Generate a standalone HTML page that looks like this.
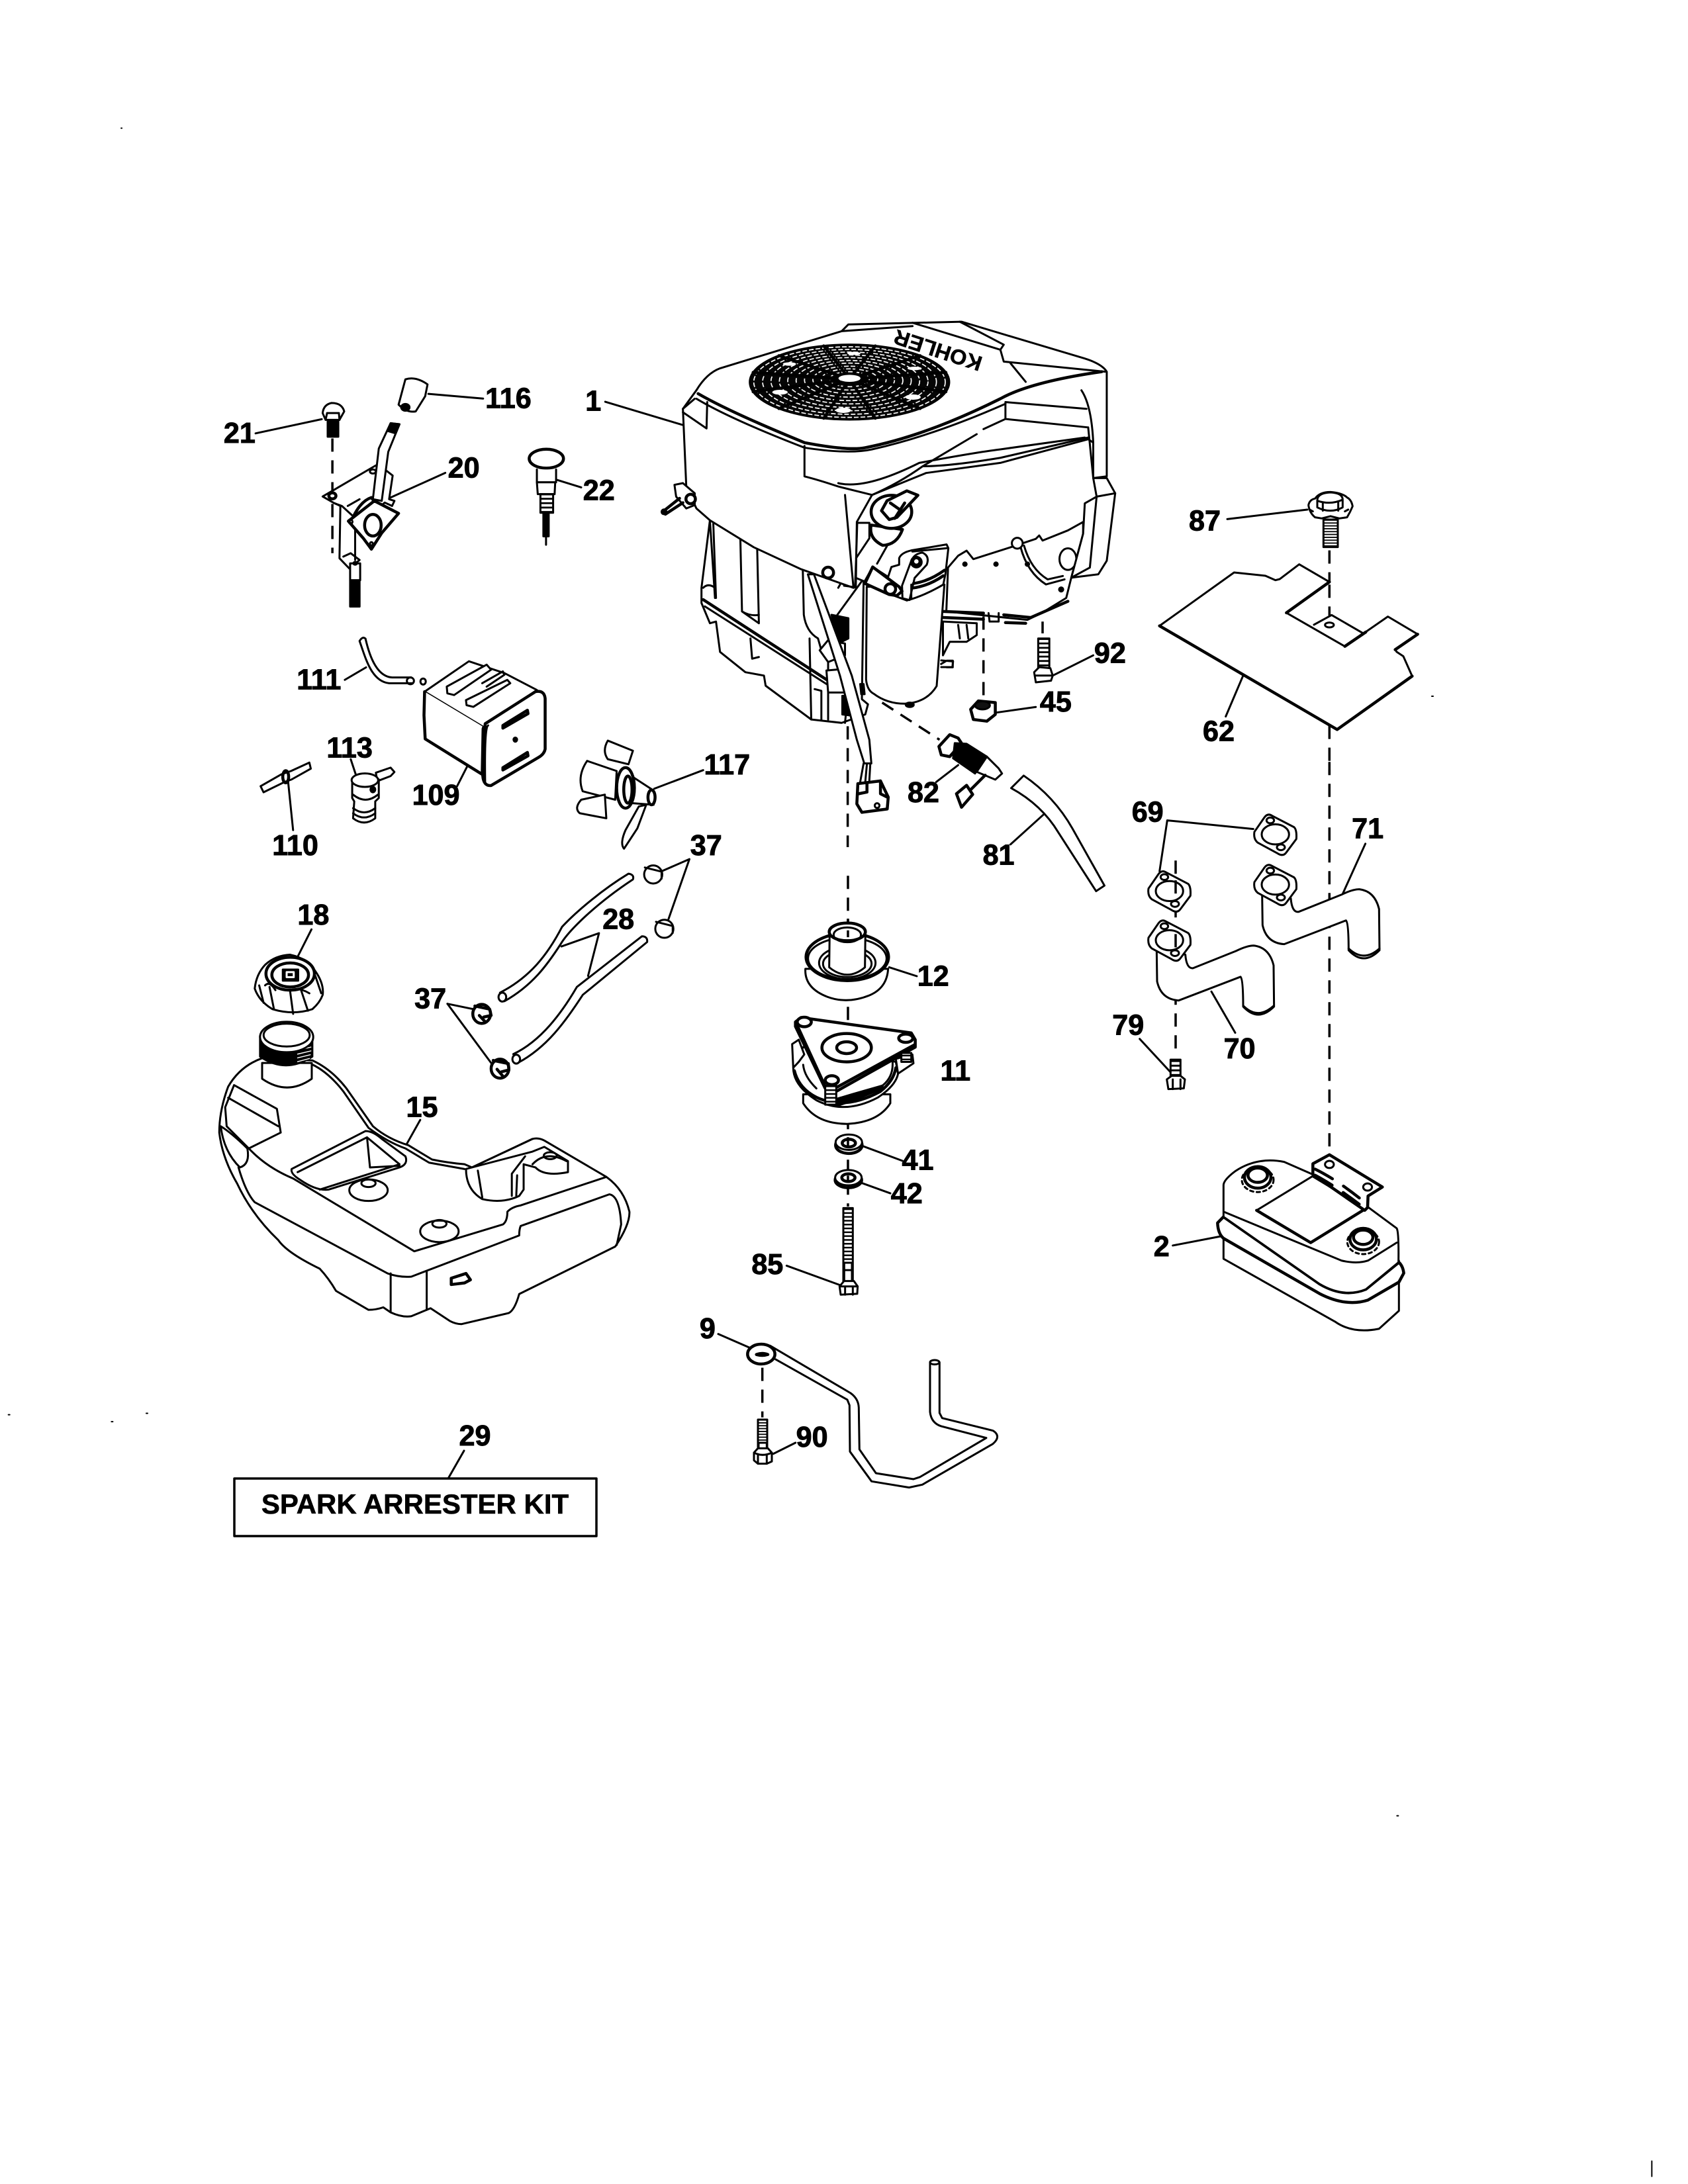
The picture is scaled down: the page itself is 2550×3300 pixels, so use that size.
<!DOCTYPE html>
<html><head><meta charset="utf-8"><style>
html,body{margin:0;padding:0;background:#fff}
svg{display:block}
path,ellipse,rect,line,circle{fill:none;stroke:#000;stroke-width:3;vector-effect:non-scaling-stroke;stroke-linejoin:round;stroke-linecap:round}
.w{fill:#fff}.k{fill:#000}.t{stroke-width:4.5}.f{stroke-width:2}
.d{stroke-dasharray:20 13;stroke-linecap:butt;stroke-width:3.5}
.h{fill:url(#th)}
text.l{font:bold 20.5px "Liberation Sans",sans-serif;text-anchor:middle;stroke:#000;stroke-width:.45}
.r{stroke:#fff!important;stroke-width:1.7;stroke-dasharray:7 3;stroke-linecap:butt}
</style></head><body>
<svg width="2550" height="3300" viewBox="0 0 2550 3300" xmlns="http://www.w3.org/2000/svg">
<defs>
<pattern id="th" width="10" height="13" patternUnits="userSpaceOnUse"><rect width="10" height="13" style="fill:#fff;stroke:none"/><rect y="0" width="10" height="5.5" style="fill:#000;stroke:none"/></pattern>
<g id="gk"><path class="w" d="M585,105 L630,65 Q645,52 665,60 L765,92 Q778,100 775,125 L730,162 Q715,175 690,165 L600,135 Q580,125 585,105Z"/><ellipse cx="680" cy="112" rx="62" ry="28"/><ellipse cx="657" cy="73" rx="17" ry="8"/><ellipse cx="705" cy="148" rx="18" ry="8"/></g>
<path id="px" class="w" d="M620,280 L622,365 Q640,415 720,418 L1000,352 Q1012,358 1012,435 Q1080,480 1152,435 L1150,320 Q1130,270 1060,265 Q1030,265 980,280 L785,328 Q755,330 750,290Z"/>
</defs>
<rect width="2550" height="3300" style="fill:#fff;stroke:none"/>

<!-- ENGINE -->
<g transform="translate(950,480) scale(.5102)">
<path class="w" d="M215,800 L215,845 L240,905 L258,900 L270,990 L345,1050 L400,1060 L405,1090 L540,1190 L630,1200 L700,1175 L708,1145 L690,1130 L695,780 L500,700 L240,600Z"/>
<path class="t" d="M220,835 L590,1075"/><path d="M225,855 L590,1088M220,800 Q235,785 255,800 L255,830M240,600 L255,830M250,610 L258,830M330,650 L335,870 L385,905 L380,685M335,870 Q360,885 385,880M515,745 L518,880 Q525,930 560,950 L570,985M535,950 L540,1190M550,1100 L570,1105 L570,1190M590,1000 L590,1190M360,950 L365,1010 L385,1005M640,1200 L645,1150M610,890 L690,780M710,640 L620,800"/>
<path class="k" d="M600,880 L650,890 L650,950 L620,965Z"/><path class="k" d="M632,1120 L652,1120 L655,1178 L632,1175Z"/><path class="k" d="M685,1085 L695,1085 L698,1115 L688,1115Z"/>
<path class="w" d="M590,955 L640,965 L640,1000 L590,1020 L565,985Z"/><path class="w" d="M585,1045 L640,1040 L640,1110 L590,1110Z"/>
<path class="w" d="M945,740 L975,705 L1000,690 L1020,715 L1130,680 L1205,655 L1215,645 L1225,660 L1300,630 L1345,605 L1345,640 L1310,770 L1295,830 L1230,870 L1180,895 L940,870Z"/>
<path class="t" d="M930,870 L1050,875M1110,880 L1190,888 L1300,840"/>
<path class="t" d="M930,888 L1050,893M1115,903 L1175,905"/>
<path d="M1065,875 L1068,900 L1095,900 L1095,875M1170,675 Q1190,745 1240,775 L1285,765M1160,680 Q1180,755 1235,790 L1290,775"/>
<circle class="w" cx="1150" cy="668" r="16"/><ellipse class="w" cx="1300" cy="715" rx="25" ry="32"/>
<circle class="k" cx="995" cy="730" r="5"/><circle class="k" cx="1087" cy="730" r="5"/><circle class="k" cx="1180" cy="730" r="5"/><circle class="k" cx="1280" cy="805" r="6"/>
<path class="w" d="M930,900 L1030,905 L1030,940 L1000,960 L950,960 L930,1000Z"/><path d="M975,910 L980,950M1000,910 L1005,950M925,1015 L960,1018 L958,1035 L925,1035"/>
<path class="w" d="M160,270 L170,500 L200,565 L240,600 L370,680 L510,745 L665,800 L672,798 L675,605 L720,525 L880,460 L1100,430 L1360,360 L1375,370 L1375,475 L1415,470 L1415,160 Q1400,135 1340,118 L985,12 L650,20 L630,40 L270,150 Q230,165 200,215Z"/>
<path class="w" d="M1375,475 L1415,475 L1440,520 L1415,720 L1390,760 L1310,770 L1345,640 L1350,550 L1385,530Z"/><path d="M1440,520 L1385,530 L1365,740 L1310,770"/>
<path d="M640,525 L665,800M520,380 L520,470 Q560,480 620,500 L720,525 Q800,490 870,440 Q950,440 1100,415 L1360,355"/>
<path d="M620,490 Q700,510 860,430 Q1020,400 1100,390 L1350,355M870,440 L1030,345M1115,250 L1115,300 L1360,325M1115,250 L1355,270M1360,325 L1375,475M1115,300 L1050,330M1340,215 Q1370,260 1375,370M160,270 L195,240M160,280 L230,328 L232,250"/>
<path class="t" d="M205,225 Q300,280 520,370 Q650,395 700,385 Q880,350 1100,240 Q1190,190 1400,160"/>
<path d="M200,240 Q300,300 520,385 Q650,405 720,390 Q900,350 1115,255M1100,95 L1110,130 L1410,160M840,15 L1100,95M980,12 L1110,80 L1100,95M1130,135 L1175,190M630,40 L840,25"/>
<text transform="translate(1050,118) rotate(198)" style="font:900 62px 'Liberation Sans',sans-serif;stroke:#000;stroke-width:1" textLength="270" lengthAdjust="spacingAndGlyphs">KOHLER</text>
<path class="w" d="M135,495 L160,490 L195,520 L195,555 L170,565 L140,530Z"/><path class="t" d="M100,575 L150,535M108,582 L160,548"/><circle class="k" cx="104" cy="575" r="7"/><circle class="w t" cx="183" cy="537" r="14"/>
<path class="w" d="M548,760 L660,1060 L712,1250 L718,1320 L697,1320 L675,1250 L625,1060 L530,760Z"/>
<circle class="w t" cx="590" cy="755" r="16"/>
<path d="M695,1320 L685,1375M705,1320 L700,1375M715,1320 L712,1370"/>
<path class="w t" d="M678,1380 L745,1372 L768,1420 L765,1455 L690,1465 L675,1440Z"/><path class="t" d="M745,1372 L745,1410 L765,1420M680,1410 L705,1405 L705,1380"/><circle cx="735" cy="1445" r="7"/>
<path class="d" d="M648,1210 L648,1568"/>
<path class="d" d="M1050,885 L1050,1125"/><path class="d" d="M750,1140 L920,1250"/><path class="d" d="M1225,900 L1225,935"/>
<rect class="h" x="1212" y="950" width="33" height="90"/>
<path class="w" d="M1200,1050 L1215,1035 L1248,1038 L1255,1060 L1250,1075 L1205,1080Z"/><path d="M1205,1060 L1250,1060"/>
<path class="w t" d="M1012,1160 L1035,1135 L1085,1140 L1085,1175 L1060,1195 L1020,1190Z"/><ellipse cx="1047" cy="1148" rx="22" ry="12" style="fill:#111"/>
<path d="M1255,1060 L1375,1000M1085,1170 L1205,1153M-70,249 L160,318M75,1395 L220,1340M910,1375 L975,1325M1130,1560 L1235,1465"/>
<path class="w t" d="M918,1270 L950,1235 L975,1245 L985,1260 L950,1300 L925,1295Z"/>
<path class="k" d="M965,1260 L1000,1262 L1060,1300 L1025,1350 L960,1305Z"/>
<path class="w" d="M1060,1300 L1095,1335 L1105,1350 L1085,1368 L1030,1345Z"/>
<path class="t" d="M1010,1400 L1055,1355"/><path class="w t" d="M970,1410 L1000,1385 L1018,1412 L985,1450Z"/>
</g>

<!-- FAN GRILLE -->
<g transform="translate(1120,500) scale(.3333)">
<ellipse cx="490" cy="232" rx="452" ry="170" style="fill:#050505"/>
<ellipse class="r" cx="490" cy="219" rx="90" ry="34"/><ellipse class="r" cx="490" cy="220" rx="128" ry="48"/><ellipse class="r" cx="490" cy="222" rx="166" ry="62"/><ellipse class="r" cx="490" cy="223" rx="204" ry="77"/><ellipse class="r" cx="490" cy="225" rx="242" ry="91"/><ellipse class="r" cx="490" cy="226" rx="280" ry="105"/><ellipse class="r" cx="490" cy="228" rx="318" ry="119"/><ellipse class="r" cx="490" cy="229" rx="356" ry="133"/><ellipse class="r" cx="490" cy="231" rx="394" ry="147"/><ellipse class="r" cx="490" cy="232" rx="434" ry="160"/>
<path class="t" d="M490,218L927,276M490,218L810,352M490,218L607,396M490,218L373,396M490,218L170,352M490,218L53,276M490,218L53,188M490,218L170,112M490,218L373,68M490,218L607,68M490,218L810,112M490,218L927,188"/>
<ellipse cx="490" cy="215" rx="50" ry="16" style="fill:#fff;stroke:none"/><ellipse cx="510" cy="102" rx="30" ry="7" style="fill:#fff;stroke:none"/><ellipse cx="218" cy="150" rx="30" ry="8" style="fill:#fff;stroke:none"/><ellipse cx="785" cy="170" rx="32" ry="8" style="fill:#fff;stroke:none"/><ellipse cx="778" cy="300" rx="35" ry="12" style="fill:#fff;stroke:none"/><ellipse cx="175" cy="278" rx="35" ry="11" style="fill:#fff;stroke:none"/><ellipse cx="462" cy="360" rx="35" ry="12" style="fill:#fff;stroke:none"/>
</g>

<!-- STARTER, OIL CAP -->
<g transform="translate(1230,750) scale(.3333)">
<path class="w" d="M238,410 L235,830 Q240,880 270,895 Q330,940 410,940 Q510,935 555,860 L590,400Z"/>
<ellipse class="k" cx="433" cy="945" rx="18" ry="10"/>
<path class="w" d="M385,280 Q395,255 440,245 L600,218 L608,235 L595,350 L585,400 Q500,450 420,472 L335,440 L225,392 L265,320 L335,365 L350,320 L385,310Z"/>
<path class="w" d="M437,300 Q450,260 490,255 Q525,270 510,310 L455,370 L432,470 L400,462 L398,405Z"/>
<circle class="k" cx="463" cy="298" r="24"/><circle cx="463" cy="295" r="10" style="fill:#fff;stroke:none"/>
<path class="t" d="M450,395 Q520,385 590,335M450,415 Q520,405 585,360"/><path d="M440,400 L440,460M445,250 L600,235"/>
<path class="w t" d="M265,320 L385,410 L398,430 L375,450 L340,445 L230,395Z"/><circle class="w t" cx="345" cy="420" r="24"/>
<path class="w" d="M250,120 L195,120 L190,280 L250,190Z"/><path d="M135,405 L185,412 L190,280"/>
<path class="w t" d="M258,130 Q245,190 310,222 Q375,220 400,150Z"/><path d="M330,225 L285,305"/>
<ellipse class="w t" cx="350" cy="70" rx="92" ry="75"/>
<path class="w t" d="M330,20 L420,-25 L470,-5 L375,95 L340,105 L305,65Z"/><path class="t" d="M365,100 L410,30M345,30 L395,65"/>
<path d="M575,760 L600,745 L628,745 L628,775 L600,775"/>
</g>

<!-- LEFT TOP PARTS -->
<g transform="translate(320,540) scale(.4464,.5102)">
<path class="d" d="M408,240 L408,580"/>
<path class="w" d="M655,65 Q690,55 730,80 L722,115 L690,160 Q660,165 632,140Z"/><ellipse class="k" cx="655" cy="148" rx="14" ry="10"/>
<path d="M733,108 L918,122M148,225 L372,183"/>
<rect class="k" x="392" y="185" width="36" height="50"/>
<path class="w" d="M375,165 Q378,140 405,135 Q440,135 448,160 L432,185 L385,185Z"/><path d="M390,165 L430,165M390,165 L385,185M430,165 L432,185"/>
<path class="w" d="M375,412 L555,320 L590,335 L612,350 L600,420 L618,425 L610,440 L585,430 L560,450 L490,480 L440,440 L415,432Z"/>
<path class="w" d="M415,432 L435,440 L432,595 L465,625 L500,600 L470,580 L445,590"/>
<ellipse class="w t" cx="408" cy="410" rx="12" ry="9"/><ellipse cx="545" cy="338" rx="10" ry="6"/>
<path class="w" d="M605,195 L565,270 L545,420 L575,425 L597,280 L635,198Z"/><path class="k" d="M605,195 L635,198 L622,225 L595,218Z"/>
<path class="w t" d="M480,470 Q505,425 540,415 L560,440 L500,480Z"/>
<path class="w t" d="M462,485 L550,425 L632,462 L575,520 L540,568 L512,535Z"/><ellipse class="w t" cx="545" cy="497" rx="28" ry="32"/><circle cx="540" cy="552" r="5"/><circle cx="470" cy="487" r="6"/>
<path d="M485,510 L485,600M460,440 L500,420"/>
<path d="M605,415 L790,342"/>
<rect class="w" x="468" y="610" width="34" height="50"/><rect class="k" x="468" y="660" width="32" height="78"/>
<ellipse class="k" cx="485" cy="610" rx="6" ry="4"/>
<ellipse class="w t" cx="1132" cy="300" rx="58" ry="28"/>
<path class="w" d="M1100,332 L1100,370 L1165,370 L1165,332"/><path class="w" d="M1100,370 L1162,370 L1160,405 L1103,405Z"/>
<rect class="h" x="1112" y="405" width="43" height="55"/><rect class="k" x="1122" y="460" width="18" height="70"/><path d="M1131,530 L1131,555M1165,362 L1250,385"/>
<path d="M500,840 C520,890 540,960 600,965 L680,965M520,833 C535,890 560,945 610,948 L675,948M500,840 Q510,825 520,833M450,955 L522,918"/><ellipse cx="672" cy="958" rx="12" ry="10"/>
<path class="w" d="M720,990 L870,900 L990,935 L1100,985 L920,1095 L720,990Z"/>
<path class="w t" d="M720,990 L718,1060 L722,1130 L915,1235 L918,1100 L920,1095"/>
<path class="w" d="M795,975 L930,910 L945,925 L820,1000 L797,995Z"/><path class="w" d="M860,1015 L1000,955 L1010,965 L885,1035 L862,1030Z"/><path d="M915,965 L985,930 L990,940 L930,975"/>
<circle cx="715" cy="960" r="9"/>
<path class="w t" d="M925,1085 L1095,990 Q1125,985 1128,1010 L1128,1160 Q1125,1175 1105,1185 L945,1268 Q920,1270 917,1240Z"/>
<path d="M935,1090 Q922,1095 925,1260"/>
<path class="w t" d="M985,1090 L1068,1045 L1070,1055 L985,1098Z"/><path class="w t" d="M985,1215 L1068,1170 L1070,1180 L985,1222Z"/><circle class="k" cx="1027" cy="1132" r="6"/>
<path d="M865,1210 L830,1270"/>
<path class="w" d="M165,1270 L235,1235 L268,1225 L330,1200 L335,1218 L270,1250 L245,1258 L175,1288Z"/><ellipse class="t" cx="250" cy="1242" rx="10" ry="18"/>
<path d="M258,1255 L275,1400M470,1190 L487,1235"/>
<path class="w" d="M555,1230 L605,1215 L618,1228 L605,1240 L560,1255Z"/>
<path class="w" d="M475,1250 Q520,1220 565,1250 L565,1305 L553,1315 L553,1365 Q515,1390 478,1365 L482,1315 L475,1305Z"/>
<ellipse class="w" cx="518" cy="1252" rx="45" ry="20"/><path d="M478,1295 Q520,1325 562,1295M478,1350 Q515,1375 553,1350M478,1335 Q515,1360 553,1335"/><circle class="k" cx="545" cy="1280" r="8"/>
<path class="w" d="M1340,1135 L1425,1165 L1410,1205 L1340,1190 Q1320,1165 1340,1135Z"/>
<path class="w" d="M1270,1195 L1370,1225 L1365,1310 L1255,1285 Q1235,1240 1270,1195Z"/>
<path class="w" d="M1250,1310 L1330,1295 L1335,1365 L1245,1350 Q1225,1335 1250,1310Z"/>
<path class="w" d="M1420,1240 L1490,1280 L1495,1325 L1420,1320Z"/>
<ellipse class="w t" cx="1400" cy="1275" rx="30" ry="60"/><ellipse class="w t" cx="1408" cy="1280" rx="14" ry="40"/>
<ellipse class="w t" cx="1488" cy="1303" rx="12" ry="22"/>
<path class="w" d="M1470,1325 L1440,1395 L1395,1455 Q1380,1440 1400,1400 L1445,1330Z"/>
</g>

<!-- TANK -->
<g transform="translate(300,1300) scale(.4464,.4783)">
<path class="w" d="M215,625 Q140,650 100,715 Q70,790 70,860 Q80,940 130,1020 Q180,1120 270,1200 Q300,1240 410,1290 Q440,1320 465,1360 L575,1420 Q600,1420 625,1412 L650,1428 Q690,1445 720,1440 L785,1415 L850,1455 Q870,1465 890,1465 L1050,1430 Q1070,1420 1085,1370 L1410,1220 Q1460,1150 1458,1110 Q1440,1040 1380,1000 L1170,885 Q1150,875 1130,880 L925,970 L900,960 Q840,955 790,945 L710,900 Q640,880 590,840 L500,720 Q450,660 385,632Z"/>
<path d="M385,645 Q440,670 490,730 L575,845 Q640,890 700,910 L780,955 L900,975"/>
<path d="M170,910 Q230,970 320,1005 L730,1235 L1030,1150 Q1045,1140 1045,1110 Q1060,1095 1090,1090 L1380,1000M135,970 Q160,1050 190,1080 L640,1305 Q680,1318 720,1315 L1085,1185 Q1085,1165 1090,1155 L1390,1055 Q1425,1060 1430,1150 L1415,1215"/>
<path d="M90,780 L120,710 L265,785 L278,860 L170,910 L95,840ZM100,750 L270,840"/>
<path d="M75,840 Q110,860 165,910 Q175,960 140,970 Q85,920 75,840Z"/>
<path class="w" d="M315,975 L565,855 Q590,855 620,880 L700,935 Q710,960 680,970 L440,1040 Q400,1045 345,1010 Q310,990 315,975Z"/>
<path d="M335,985 L570,875 L680,960 L410,1040M570,875 L580,970 L680,965"/>
<ellipse cx="575" cy="1042" rx="65" ry="34"/><ellipse cx="575" cy="1020" rx="24" ry="12"/><ellipse cx="815" cy="1172" rx="65" ry="34"/><ellipse cx="815" cy="1148" rx="24" ry="12"/>
<path class="w" d="M905,975 Q905,1040 960,1070 Q1030,1085 1085,1060 L1100,1040 L1100,960 L1140,970 Q1170,1000 1250,985 L1250,950 L1170,905 L1130,920 L925,970Z"/>
<path d="M925,970 L1130,880M945,980 L960,1065M1060,1060 L1060,990 L1105,935M1075,1060 L1078,995"/><ellipse cx="1190" cy="933" rx="22" ry="11"/><path d="M1130,960 Q1175,915 1245,950"/>
<path d="M650,1305 L650,1425M772,1300 L772,1420"/><path class="t" d="M855,1320 L905,1305 L920,1325 L900,1335 L855,1340Z"/>
<path class="w" d="M215,640 L215,690 Q300,745 383,690 L383,640Z"/>
<path class="k" d="M208,555 L208,620 Q295,675 385,620 L385,555Z"/>
<path style="stroke:#fff;stroke-width:1.5" d="M335,600 L380,590M335,612 L380,602M335,624 L378,614M335,636 L375,626"/>
<ellipse class="w" cx="298" cy="558" rx="90" ry="48"/><ellipse class="w" cx="298" cy="552" rx="78" ry="36"/>
<path class="w" d="M190,405 Q195,360 225,330 Q260,300 310,298 Q370,310 395,350 Q425,390 420,425 Q410,450 385,470 Q320,490 250,470 Q205,445 190,405Z"/>
<ellipse class="t" cx="310" cy="358" rx="82" ry="52"/><ellipse class="t" cx="310" cy="362" rx="62" ry="38"/><rect class="k" x="285" y="345" width="52" height="35"/><rect x="298" y="353" width="24" height="16" style="stroke:#fff"/>
<path d="M205,395 L220,450M240,400 L255,470M310,415 L320,485M345,405 L370,475M395,365 L415,420M225,395 Q240,380 260,410M310,410 Q340,400 375,420"/>
<path d="M382,218 L335,305M750,820 L705,895M1355,230 L1228,272M1355,230 L1318,365M842,453 L930,470M842,453 L990,640"/>
<path class="w" d="M1035,445 C1130,395 1180,330 1225,265 C1250,225 1340,140 1470,60 Q1475,45 1455,42 C1370,90 1280,160 1230,210 C1180,300 1120,370 1020,418Z"/>
<ellipse class="w" cx="1028" cy="432" rx="13" ry="14"/>
<path class="w" d="M1080,640 C1180,590 1240,510 1300,425 L1518,258 Q1520,240 1500,240 L1280,400 C1230,480 1160,570 1065,612Z"/>
<ellipse class="w" cx="1075" cy="628" rx="13" ry="14"/>
<ellipse class="w t" cx="958" cy="485" rx="30" ry="30"/><path class="t" d="M935,460 L985,470 L990,490 L965,495M950,490 L970,510"/>
<ellipse class="w t" cx="1020" cy="658" rx="30" ry="30"/><path class="t" d="M997,632 L1048,642 L1050,662 L1025,668M1010,660 L1030,682"/>
</g>

<!-- PULLEY/CLUTCH -->
<g transform="translate(1100,1350) scale(.3333,.4464)">
<path class="d" d="M543,-60 L543,1060"/>
<path class="w" d="M350,255 Q345,320 450,350 Q540,375 640,345 Q720,320 725,255Z"/>
<ellipse class="w t" cx="540" cy="215" rx="187" ry="80"/><ellipse cx="540" cy="220" rx="178" ry="70"/><ellipse cx="540" cy="235" rx="128" ry="55"/><ellipse cx="540" cy="238" rx="110" ry="45"/>
<path class="w" d="M460,130 L458,250 Q540,300 620,250 L622,130Z"/>
<ellipse class="w t" cx="540" cy="130" rx="82" ry="30"/><ellipse cx="540" cy="140" rx="62" ry="25"/>
<path class="d" d="M543,85 L543,105M543,125 L543,148"/>
<path d="M730,250 L855,280"/>
<path class="w" d="M340,680 L340,710 Q400,780 540,780 Q680,775 735,710 L735,680Z"/>
<path class="w" d="M295,590 Q295,650 400,700 Q530,750 680,690 Q760,650 770,610 L760,570 L340,520Z"/>
<path class="t" d="M300,600 Q320,660 400,690 Q530,735 690,670 Q750,635 760,590"/>
<path class="w" d="M290,510 L320,495 L345,545 L320,570 L295,590Z"/>
<path class="w" d="M760,560 L835,545 L840,575 L770,610Z"/>
<path d="M340,580 Q345,620 400,660M745,570 Q750,620 700,650L600,680 L510,715"/>
<path class="k" d="M470,700 L560,680 L700,650 L700,660 L570,700 L490,720Z"/>
<path class="w t" d="M305,435 L330,420 L830,472 L848,495 L848,520 L490,670 L440,660 L305,450Z"/>
<path class="t" d="M315,450 L438,650M495,655 L845,512"/>
<ellipse class="w t" cx="345" cy="435" rx="32" ry="16"/><ellipse class="w t" cx="805" cy="490" rx="32" ry="14"/><ellipse class="w t" cx="470" cy="632" rx="30" ry="15"/>
<ellipse class="t" cx="537" cy="522" rx="112" ry="48"/><ellipse class="t" cx="537" cy="522" rx="45" ry="20"/>
<rect class="h" x="440" y="650" width="50" height="65" /><rect class="h" x="785" y="540" width="45" height="30"/>
<ellipse class="w t" cx="547" cy="852" rx="60" ry="28"/><ellipse class="w" cx="547" cy="842" rx="60" ry="26"/><ellipse class="t" cx="547" cy="845" rx="30" ry="13"/>
<ellipse class="w t" cx="545" cy="970" rx="60" ry="26"/><ellipse class="w" cx="545" cy="962" rx="60" ry="26"/><ellipse class="t" cx="545" cy="962" rx="30" ry="13"/>
<path class="d" d="M543,825 L543,860M543,955 L543,975"/>
<path d="M610,855 L790,905M605,980 L735,1015M265,1260 L505,1325"/>
<rect class="h" x="522" y="1065" width="43" height="250"/>
<rect class="w" x="526" y="1250" width="35" height="70"/><path d="M526,1275 L561,1275"/>
<path class="w" d="M505,1330 L525,1312 L570,1312 L587,1330 L585,1355 L510,1358Z"/><path d="M530,1330 L530,1358M565,1330 L565,1358M505,1330 L587,1330"/>
</g>

<!-- EXHAUST AND MUFFLER -->
<g transform="translate(1700,1200) scale(.3333,.5421)">
<path class="d" d="M925,-90 L925,1005"/><path class="d" d="M228,185 L228,730"/>
<use href="#px"/><use href="#gk" y="140"/>
<use href="#gk"/><use href="#gk" x="-480" y="158"/>
<use href="#px" x="-478" y="157"/><use href="#gk" x="-480" y="295"/>
<path class="d" d="M228,240 L228,280M228,390 L228,450"/>
<path d="M1012,430 Q1080,470 1152,430M535,590 Q600,630 672,590"/>
<path d="M190,73 L580,97M190,73 L155,215M1088,138 L985,278M390,550 L498,665M65,682 L205,775M215,1258 L435,1232"/>
<rect class="h" x="205" y="740" width="45" height="50"/>
<path class="w" d="M188,795 L210,785 L250,785 L270,795 L265,820 L195,822Z"/><path d="M215,795 L215,822M250,795 L250,822"/>
<path class="w" d="M445,1180 L445,1295 L950,1470 Q1030,1505 1150,1490 L1240,1440 L1240,1300Z"/>
<path class="w t" d="M445,1178 L418,1195 Q420,1225 445,1238 L880,1392 Q1000,1430 1100,1410 L1240,1360 L1262,1335 Q1258,1315 1240,1305 L1090,1380 Q990,1405 880,1365Z"/>
<path class="w" d="M445,1090 Q445,1075 500,1050 Q600,1010 720,1025 L850,1060 L1098,1150 L1230,1210 Q1240,1220 1238,1305 L1090,1380 Q990,1405 880,1365 L445,1178Z"/>
<path d="M450,1165 L980,1300 Q1050,1310 1100,1300 L1230,1250"/>
<ellipse cx="600" cy="1075" rx="72" ry="34" style="stroke-dasharray:5 5"/><ellipse class="w t" cx="600" cy="1068" rx="60" ry="30"/><ellipse class="t" cx="600" cy="1062" rx="44" ry="20"/>
<ellipse cx="1078" cy="1248" rx="72" ry="34" style="stroke-dasharray:5 5"/><ellipse class="w t" cx="1078" cy="1240" rx="60" ry="30"/><ellipse class="t" cx="1078" cy="1235" rx="44" ry="20"/>
<path class="w" d="M595,1160 L848,1065 L1090,1155 L840,1250Z"/><path class="t" d="M595,1160 L840,1250 L1090,1155"/>
<path class="w t" d="M850,1060 L850,1030 L925,1005 L1165,1095 L1100,1120 L1098,1152 L1085,1160Z"/>
<path class="t" d="M860,1045 Q960,1075 1080,1135" style="stroke-dasharray:30 20"/><path class="t" d="M860,1062 Q960,1095 1075,1150" style="stroke-dasharray:30 20"/>
<ellipse cx="925" cy="1032" rx="20" ry="10"/><ellipse cx="1098" cy="1095" rx="20" ry="10"/>
</g>

<!-- HEAT SHIELD 62 + 87 -->
<g transform="translate(1730,720) scale(.3333)">
<path class="d" d="M835,335 L835,480"/><path class="d" d="M835,490 L835,630"/><path class="d" d="M835,1130 L835,1350"/>
<path class="w" d="M65,677 L403,435 L545,450 L590,470 L610,465 L698,398 L835,478 L640,618 L905,770 L1100,635 L1235,715 L1133,785 L1140,795 L1170,815 L1210,905 L870,1147Z"/>
<path class="t" d="M65,677 L870,1147 L1210,905M835,478 L640,618M905,770 L1000,705M1133,785 L1235,715"/>
<path d="M765,672 L845,628 L990,712"/><ellipse cx="835" cy="673" rx="20" ry="11"/>
<rect class="h" x="808" y="195" width="65" height="125"/>
<path class="w" d="M740,130 Q745,105 770,100 Q790,70 840,70 Q895,75 915,95 Q935,105 940,135 Q930,160 915,185 L880,190 L840,180 L800,190 L770,185 Q745,165 740,130Z"/>
<path d="M780,108 Q780,75 840,72 Q895,75 895,105 L895,140 Q840,170 780,140ZM780,110 Q840,130 895,105M805,120 L805,155M875,118 L875,155M745,150 L760,158M920,150 L905,158"/>
<path d="M372,193 L735,150M445,900 L365,1088"/>
</g>

<!-- 9 + 90 -->
<g transform="translate(1040,1980) scale(.3333)">
<path class="d" d="M335,260 L335,485"/>
<path class="w" d="M370,160 L735,375 Q770,400 772,440 L775,630 L850,738 L1020,765 L1050,755 L1350,580 L1150,520 Q1135,500 1138,470 L1138,235 L1095,235 L1095,460 Q1100,505 1145,525 L1365,580 L1060,770 Q1030,800 1000,803 L830,775 L745,670 Q730,640 730,600 L730,430 L720,405 L395,220Z" style="fill:none;stroke:none"/>
<path d="M370,160 L735,375 Q770,400 772,440 L775,630 L850,738 L1020,765 L1050,755 L1350,578M395,222 L720,405 L730,430 L732,640 L830,775 L1000,803 L1060,790 L1380,605 Q1420,570 1380,545 L1150,488 L1138,465 L1138,235M1095,235 L1095,460 Q1100,510 1145,525 L1350,578"/>
<ellipse cx="1116" cy="235" rx="21" ry="10"/>
<ellipse class="w t" cx="330" cy="198" rx="62" ry="45"/><path class="t" d="M308,200 Q335,190 360,200 Q335,208 308,200Z"/>
<path d="M135,107 L275,168M385,650 L485,600"/>
<rect class="h" x="315" y="495" width="42" height="125"/><rect class="w" x="318" y="600" width="37" height="45"/>
<path class="w" d="M297,645 L315,625 L360,625 L378,645 L378,685 L355,695 L315,695 L297,680Z"/><path d="M297,645 Q335,665 378,645M315,655 L315,695M355,655 L355,695"/>
</g>

<!-- SPARK ARRESTER BOX -->
<rect x="354" y="2234" width="547" height="87" style="stroke-width:3.5"/>
<line x1="701" y1="2192" x2="677" y2="2234"/>
<text x="627" y="2287" style="font:bold 42px 'Liberation Sans',sans-serif;text-anchor:middle;stroke:#000;stroke-width:.6">SPARK ARRESTER KIT</text>

<g transform="scale(2.104)">
<path class="w" d="M726,566 L735,557 Q757,572 770,595 L793,636 L787,640 L760,598 Q748,578 726,566Z"/>
<path d="M495,617 L472,627M495,617 L480,660"/>
<circle class="w" cx="469" cy="628" r="6.5"/><path d="M463,623 L475,626 L475,631"/><circle class="w" cx="477" cy="667" r="6.5"/><path d="M471,662 L483,665 L483,670"/>
<text class="l" x="426" y="295">1</text><text class="l" x="365" y="293">116</text><text class="l" x="172" y="318">21</text><text class="l" x="333" y="343">20</text><text class="l" x="430" y="359">22</text><text class="l" x="865" y="381">87</text><text class="l" x="797" y="476">92</text><text class="l" x="229" y="495">111</text><text class="l" x="758" y="511">45</text><text class="l" x="251" y="544">113</text><text class="l" x="875" y="532">62</text><text class="l" x="522" y="556">117</text><text class="l" x="663" y="576">82</text><text class="l" x="313" y="578">109</text><text class="l" x="824" y="590">69</text><text class="l" x="982" y="602">71</text><text class="l" x="507" y="614">37</text><text class="l" x="212" y="614">110</text><text class="l" x="717" y="621">81</text><text class="l" x="225" y="664">18</text><text class="l" x="444" y="667">28</text><text class="l" x="670" y="708">12</text><text class="l" x="309" y="724">37</text><text class="l" x="810" y="743">79</text><text class="l" x="890" y="760">70</text><text class="l" x="686" y="776">11</text><text class="l" x="303" y="802">15</text><text class="l" x="659" y="840">41</text><text class="l" x="651" y="864">42</text><text class="l" x="834" y="902">2</text><text class="l" x="551" y="915">85</text><text class="l" x="508" y="961">9</text><text class="l" x="341" y="1038">29</text><text class="l" x="583" y="1039">90</text>
<path class="f" d="M87,92 L87.5,92M6,1016 L7,1016M80,1021 L81,1021M105,1015 L106,1015M1003,1304 L1004,1304M1028,500 L1029,500"/>
<path d="M1186,1552 L1186,1563" style="stroke-width:2"/>
</g>
</svg>
</body></html>
